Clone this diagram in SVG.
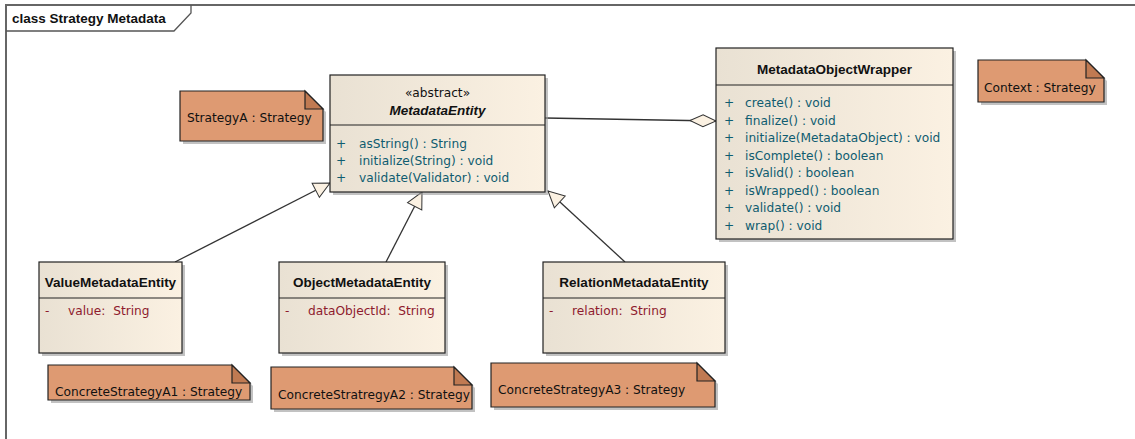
<svg xmlns="http://www.w3.org/2000/svg" width="1135" height="439" viewBox="0 0 1135 439">
<defs>
<linearGradient id="cls" x1="0" y1="0" x2="1" y2="0">
<stop offset="0" stop-color="#e9e1d3"/>
<stop offset="1" stop-color="#fbf1e2"/>
</linearGradient>
<marker id="tri" markerUnits="userSpaceOnUse" markerWidth="18" markerHeight="18" refX="17" refY="8" orient="auto" overflow="visible">
<path d="M1,0 L17,8 L1,16 Z" fill="#fbf1e2" stroke="#333" stroke-width="1"/>
</marker>
<marker id="dia" markerUnits="userSpaceOnUse" markerWidth="28" markerHeight="14" refX="26" refY="6" orient="auto" overflow="visible">
<path d="M0,6 L13,0 L26,6 L13,12 Z" fill="#fbf1e2" stroke="#333" stroke-width="1"/>
</marker>
</defs>
<style>
.box{fill:url(#cls);stroke:#222;stroke-width:1.2}
.sh{fill:#999;opacity:0.6}
.sep{stroke:#222;stroke-width:1.2}
text{white-space:pre}
.t{font-family:"DejaVu Sans",Verdana,sans-serif;font-size:12.2px;fill:#111}
.b{font-family:"Liberation Sans",Arial,sans-serif;font-weight:bold;font-size:13.5px}
.m{font-family:"DejaVu Sans",Verdana,sans-serif;font-size:12.2px;fill:#0f5c70}
.a{font-family:"DejaVu Sans",Verdana,sans-serif;font-size:12.2px;fill:#8e1b2e}
.note{fill:#de9a72;stroke:#222;stroke-width:1.2}
.fold{fill:#c07a52;stroke:#222;stroke-width:1.2}
.ln{stroke:#333;stroke-width:1.3;fill:none}
</style>
<rect width="1135" height="439" fill="#fff"/>
<g id="frame">
<path d="M6,439 L6,5 L1135,5" fill="none" stroke="#666" stroke-width="2"/>
<path d="M6,31 L174,31 L191,13 L191,5" fill="none" stroke="#555" stroke-width="1.3"/>
<text class="t b" x="12" y="23">class Strategy Metadata</text>
</g>
<g id="connectors">
<line class="ln" x1="175" y1="262" x2="330" y2="183" marker-end="url(#tri)"/>
<line class="ln" x1="386" y1="262" x2="422" y2="192" marker-end="url(#tri)"/>
<line class="ln" x1="625" y1="262" x2="548" y2="191" marker-end="url(#tri)"/>
<line class="ln" x1="545" y1="118" x2="716" y2="121" marker-end="url(#dia)"/>
</g>
<g id="MetadataEntity">
<rect class="sh" x="333" y="78" width="215" height="117"/>
<rect class="box" x="330" y="75" width="215" height="117"/>
<line class="sep" x1="330" y1="125" x2="545" y2="125"/>
<text class="t" x="437.5" y="97" text-anchor="middle" font-size="11.5">«abstract»</text>
<text class="t b" x="437.5" y="115" text-anchor="middle" font-style="italic">MetadataEntity</text>
<text class="m" x="336" y="148">+</text><text class="m" x="359" y="148">asString() : String</text>
<text class="m" x="336" y="165">+</text><text class="m" x="359" y="165">initialize(String) : void</text>
<text class="m" x="336" y="182">+</text><text class="m" x="359" y="182">validate(Validator) : void</text>
</g>
<g id="MetadataObjectWrapper">
<rect class="sh" x="719" y="51" width="237" height="191"/>
<rect class="box" x="716" y="48" width="237" height="191"/>
<line class="sep" x1="716" y1="85" x2="953" y2="85"/>
<text class="t b" x="834.5" y="74" text-anchor="middle">MetadataObjectWrapper</text>
<text class="m" x="724" y="107">+</text><text class="m" x="745" y="107">create() : void</text>
<text class="m" x="724" y="125">+</text><text class="m" x="745" y="125">finalize() : void</text>
<text class="m" x="724" y="142">+</text><text class="m" x="745" y="142">initialize(MetadataObject) : void</text>
<text class="m" x="724" y="160">+</text><text class="m" x="745" y="160">isComplete() : boolean</text>
<text class="m" x="724" y="177">+</text><text class="m" x="745" y="177">isValid() : boolean</text>
<text class="m" x="724" y="195">+</text><text class="m" x="745" y="195">isWrapped() : boolean</text>
<text class="m" x="724" y="212">+</text><text class="m" x="745" y="212">validate() : void</text>
<text class="m" x="724" y="230">+</text><text class="m" x="745" y="230">wrap() : void</text>
</g>
<g id="ValueMetadataEntity">
<rect class="sh" x="42" y="265" width="143" height="91"/>
<rect class="box" x="39" y="262" width="143" height="91"/>
<line class="sep" x1="39" y1="298" x2="182" y2="298"/>
<text class="t b" x="110.5" y="287" text-anchor="middle">ValueMetadataEntity</text>
<text class="a" x="45" y="315">-</text><text class="a" x="68" y="315">value:  String</text>
</g>
<g id="ObjectMetadataEntity">
<rect class="sh" x="282" y="265" width="166" height="91"/>
<rect class="box" x="279" y="262" width="166" height="91"/>
<line class="sep" x1="279" y1="298" x2="445" y2="298"/>
<text class="t b" x="362" y="287" text-anchor="middle">ObjectMetadataEntity</text>
<text class="a" x="285" y="315">-</text><text class="a" x="308" y="315">dataObjectId:  String</text>
</g>
<g id="RelationMetadataEntity">
<rect class="sh" x="546" y="265" width="182" height="91"/>
<rect class="box" x="543" y="262" width="182" height="91"/>
<line class="sep" x1="543" y1="298" x2="725" y2="298"/>
<text class="t b" x="634" y="287" text-anchor="middle">RelationMetadataEntity</text>
<text class="a" x="549" y="315">-</text><text class="a" x="572" y="315">relation:  String</text>
</g>
<g id="StrategyA">
<path class="sh" d="M183,94 L308,94 L326,112 L326,144 L183,144 Z"/>
<path class="note" d="M180,91 L305,91 L323,109 L323,141 L180,141 Z"/>
<path class="fold" d="M305,91 L305,109 L323,109 Z"/>
<text class="t" x="187" y="122">StrategyA : Strategy</text>
</g>
<g id="Context">
<path class="sh" d="M981,63 L1089,63 L1107,81 L1107,105 L981,105 Z"/>
<path class="note" d="M978,60 L1086,60 L1104,78 L1104,102 L978,102 Z"/>
<path class="fold" d="M1086,60 L1086,78 L1104,78 Z"/>
<text class="t" x="984" y="92">Context : Strategy</text>
</g>
<g id="ConcreteStrategyA1">
<path class="sh" d="M51,368 L235,368 L253,386 L253,403 L51,403 Z"/>
<path class="note" d="M48,365 L232,365 L250,383 L250,400 L48,400 Z"/>
<path class="fold" d="M232,365 L232,383 L250,383 Z"/>
<text class="t" x="55" y="396">ConcreteStrategyA1 : Strategy</text>
</g>
<g id="ConcreteStratregyA2">
<path class="sh" d="M274,370 L457,370 L475,388 L475,412 L274,412 Z"/>
<path class="note" d="M271,367 L454,367 L472,385 L472,409 L271,409 Z"/>
<path class="fold" d="M454,367 L454,385 L472,385 Z"/>
<text class="t" x="278" y="399">ConcreteStratregyA2 : Strategy</text>
</g>
<g id="ConcreteStrategyA3">
<path class="sh" d="M494,366 L700,366 L718,384 L718,410 L494,410 Z"/>
<path class="note" d="M491,363 L697,363 L715,381 L715,407 L491,407 Z"/>
<path class="fold" d="M697,363 L697,381 L715,381 Z"/>
<text class="t" x="498" y="394">ConcreteStrategyA3 : Strategy</text>
</g>
</svg>
